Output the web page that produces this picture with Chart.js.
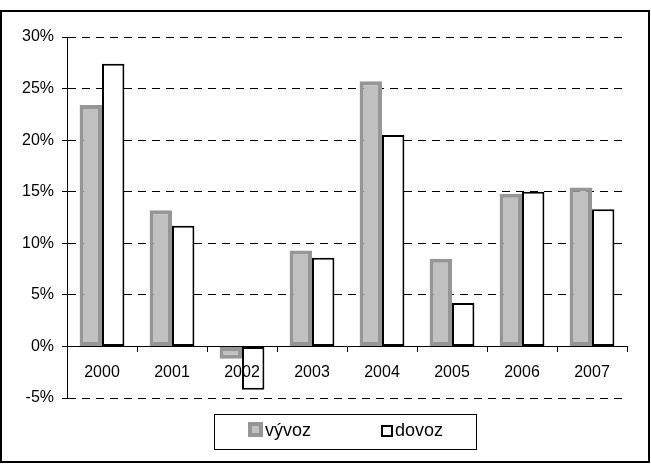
<!DOCTYPE html>
<html>
<head>
<meta charset="utf-8">
<script src="https://cdn.jsdelivr.net/npm/chart.js@4/dist/chart.umd.min.js"></script>
<style>
  body { margin: 0; background: #fff; }
  canvas { display: block; }
</style>
</head>
<body>
<canvas id="graf" width="651" height="464"></canvas>
<script>
// data (meziroční změna v %)
const roky = ["2000", "2001", "2002", "2003", "2004", "2005", "2006", "2007"];
const vyvoz = [23.4, 13.2, -1.2, 9.3, 25.7, 8.5, 14.8, 15.4];
const dovoz = [27.4, 11.7, -4.2, 8.6, 20.5, 4.2, 15.0, 13.3];
const osaY = { min: -5, max: 30, krok: 5 };

Chart.defaults.font.family = '"Liberation Sans", Arial, sans-serif';
Chart.defaults.font.size = 16;
Chart.defaults.color = '#000';

// rámeček kolem celého grafu
const ramecek = {
    id: 'ramecek',
    afterDraw(chart) {
        const ctx = chart.ctx;
        ctx.save();
        ctx.strokeStyle = '#000';
        ctx.lineWidth = 2;
        ctx.strokeRect(1, 11, 648, 451);
        ctx.restore();
    }
};

// legenda v rámečku pod grafem
const legenda = {
    id: 'legenda',
    afterDraw(chart) {
        const ctx = chart.ctx;
        ctx.save();
        ctx.strokeStyle = '#000';
        ctx.lineWidth = 1;
        ctx.strokeRect(214.5, 414.5, 262, 35);

        const polozky = [
            { x: 248, y: 422, s: 15, tx: 265 },
            { x: 381, y: 425, s: 12, tx: 395 }
        ];
        ctx.font = '18px "Liberation Sans", Arial, sans-serif';
        ctx.textBaseline = 'middle';
        chart.data.datasets.forEach((ds, i) => {
            const p = polozky[i];
            const b = ds.borderWidth;
            ctx.fillStyle = ds.borderColor;
            ctx.fillRect(p.x, p.y, p.s, p.s);
            ctx.fillStyle = ds.backgroundColor;
            ctx.fillRect(p.x + b, p.y + b, p.s - 2 * b, p.s - 2 * b);
            ctx.fillStyle = '#000';
            ctx.fillText(ds.label, p.tx, 431);
        });
        ctx.restore();
    }
};

new Chart(
    document.getElementById("graf"),
    {
    type: "bar",
    data: {
        labels: roky,
        datasets: [
            {
                label: "vývoz",
                data: vyvoz,
                backgroundColor: "#c0c0c0",
                borderColor: "#969696",
                borderWidth: 4,
                borderSkipped: false
            },
            {
                label: "dovoz",
                data: dovoz,
                backgroundColor: "#ffffff",
                borderColor: "#000000",
                borderWidth: 2,
                borderSkipped: false
            }
        ]
    },
    options: {
        responsive: false,
        animation: false,
        devicePixelRatio: 1,
        categoryPercentage: 0.64,
        barPercentage: 1,
        layout: {
            padding: { left: 0, top: 37, right: 24, bottom: 66 }
        },
        plugins: {
            legend: { display: false },
            tooltip: { enabled: false }
        },
        scales: {
            x: {
                position: { y: 0 },
                grid: {
                    drawOnChartArea: false,
                    drawTicks: true,
                    tickLength: 5,
                    color: '#000'
                },
                border: { color: '#000', width: 1 },
                // popisky nad sloupci (2002 zasahuje pod osu)
                ticks: { padding: 12, maxRotation: 0, z: 1 }
            },
            y: {
                min: osaY.min,
                max: osaY.max,
                afterFit: s => { s.width = 67; },
                ticks: {
                    stepSize: osaY.krok,
                    padding: 8,
                    callback: v => v + '%'
                },
                grid: {
                    color: '#000',
                    tickColor: '#000',
                    tickLength: 5,
                    tickBorderDash: []
                },
                border: { color: '#000', width: 1, dash: [8, 6] }
            }
        }
    },
    plugins: [ramecek, legenda]
    }
);
</script>
</body>
</html>
